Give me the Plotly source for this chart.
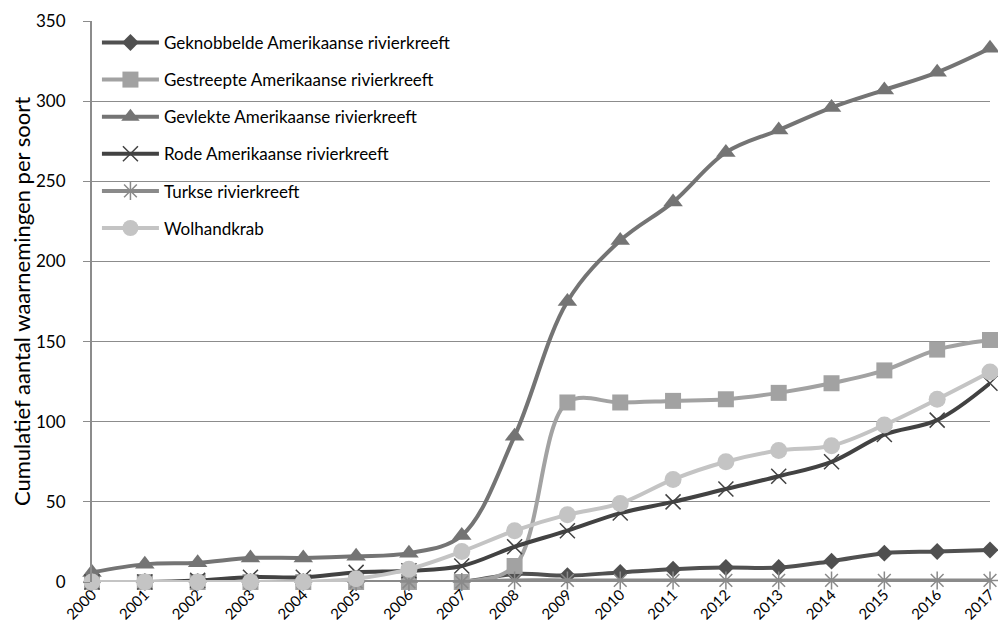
import plotly.graph_objects as go

years = list(range(2000, 2018))
series_names = [
    "Geknobbelde Amerikaanse rivierkreeft",
    "Gestreepte Amerikaanse rivierkreeft",
    "Gevlekte Amerikaanse rivierkreeft",
    "Rode Amerikaanse rivierkreeft",
    "Turkse rivierkreeft",
    "Wolhandkrab",
]
geknobbelde = [0, 0, 0, 0, 0, 0, 0, 0, 5, 4, 6, 8, 9, 9, 13, 18, 19, 20]
gestreepte = [0, 0, 0, 0, 0, 0, 0, 0, 10, 112, 112, 113, 114, 118, 124, 132, 145, 151]
gevlekte = [6, 11, 12, 15, 15, 16, 18, 29, 91, 175, 213, 237, 268, 282, 296, 307, 318, 333]
rode = [0, 0, 1, 3, 3, 6, 7, 10, 22, 32, 43, 50, 58, 66, 75, 92, 101, 124]
turkse = [0, 0, 0, 0, 0, 0, 0, 0, 1, 1, 1, 1, 1, 1, 1, 1, 1, 1]
wolhandkrab = [0, 0, 0, 0, 0, 2, 8, 19, 32, 42, 49, 64, 75, 82, 85, 98, 114, 131]
tick_labels = [str(y) for y in years]

values = [geknobbelde, gestreepte, gevlekte, rode, turkse, wolhandkrab]
colors = ["#505050", "#a2a2a2", "#747474", "#424242", "#8a8a8a", "#c4c4c4"]
symbols = ["diamond", "square", "triangle-up", "x-thin-open", "asterisk-open", "circle"]
sizes = [13, 16, 17, 15, 15, 17]

fig = go.Figure()
for i, (name, vals) in enumerate(zip(series_names, values)):
    marker = dict(symbol=symbols[i], size=sizes[i], color=colors[i])
    if symbols[i] in ("x-thin-open", "asterisk-open"):
        marker["line"] = dict(color=colors[i], width=1.5)
    fig.add_trace(go.Scatter(
        x=years, y=vals, name=name, mode="lines+markers",
        line=dict(color=colors[i], width=4, shape="spline", smoothing=1.0),
        marker=marker, cliponaxis=False, legendgroup=str(i),
    ))

fig.update_layout(
    width=990, height=617,
    margin=dict(l=84, r=0, t=13, b=43),
    paper_bgcolor="white", plot_bgcolor="white",
    font=dict(family="Lato, Open Sans, sans-serif", color="#000000"),
    showlegend=True,
    legend=dict(
        x=0.0055, y=0.993, xanchor="left", yanchor="top",
        bgcolor="rgba(0,0,0,0)", font=dict(size=17, color="#000"),
        itemwidth=57, tracegroupgap=12,
    ),
    xaxis=dict(
        range=[2000, 2017], tickmode="array", tickvals=years, ticktext=tick_labels,
        tickangle=-45, tickfont=dict(size=15), showgrid=False, zeroline=False,
        showline=False, ticks="", ticklabeloverflow="allow",
    ),
    yaxis=dict(
        range=[0, 350], dtick=50, showgrid=True, gridcolor="#8c8c8c", gridwidth=1,
        zeroline=False, showline=True, linecolor="#8c8c8c", linewidth=2,
        ticks="outside", ticklen=7, tickcolor="#8c8c8c", tickfont=dict(size=17),
        ticklabelstandoff=14,
        title=dict(text="Cumulatief aantal waarnemingen per soort", font=dict(size=22), standoff=2),
    ),
)
fig.write_html("out.html")
